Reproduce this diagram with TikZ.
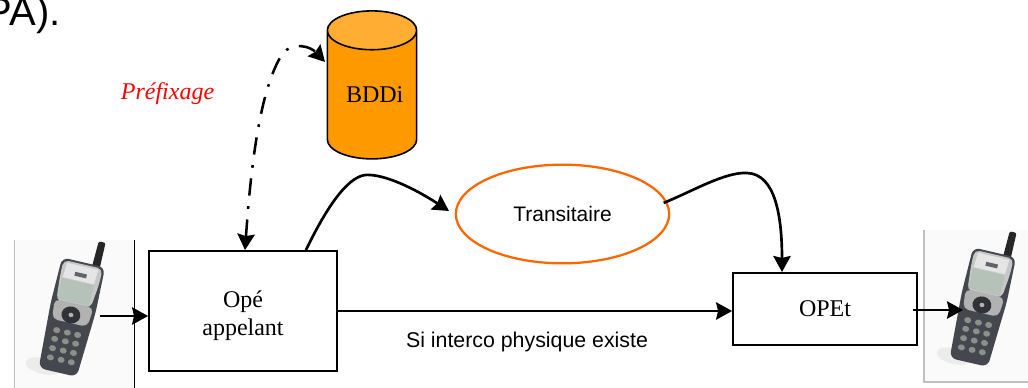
\documentclass[tikz,border=0pt]{standalone}
\usepackage{fontspec}
\setmainfont{Liberation Serif}
\newfontfamily\arialfont{Liberation Sans}
\usetikzlibrary{arrows.meta,shapes.geometric}
\definecolor{bddorange}{HTML}{FF9900}
\definecolor{bddtop}{HTML}{FFAD33}
\definecolor{transorange}{HTML}{FF6600}
\definecolor{phonedark}{HTML}{45474F}
\definecolor{phonekey}{HTML}{8C9088}
\definecolor{phonescreen}{HTML}{B4C2B8}
\tikzset{>={Stealth[length=12pt,width=13pt,inset=1.5pt]}}
\tikzset{
  boxope/.style={draw,line width=1.4pt,font=\fontsize{18}{21}\selectfont,align=center,inner sep=0pt},
  link/.style={->,line width=2pt},
  linkdash/.style={<->,line width=1.9pt,dash pattern=on 13pt off 8pt on 2pt off 8pt},
  phone/.pic={
    \fill[gray!15] (-16,54) ellipse (18 and 8);
    \fill[black!85,rounded corners=1.5pt] (9,-50) -- (10,-80) -- (17,-80) -- (17,-50) -- cycle;
    \fill[phonedark,rounded corners=5pt] (-22,-56) -- (22,-56) -- (23,-10) -- (19,57) -- (-20,57) -- (-23,-10) -- cycle;
    \fill[black!22,rounded corners=4pt] (-20,-54) -- (20,-54) -- (20,-38) -- (17,-13) -- (-18,-13) -- (-20,-38) -- cycle;
    \fill[black!10] (-16,-52) -- (16,-52) -- (15,-37) -- (-17,-37) -- cycle;
    \fill[phonedark!85] (-6,-45) rectangle (6,-41);
    \fill[phonescreen] (-17.5,-36) rectangle (15,-15);
    \fill[black!30,rounded corners=4pt] (-20,-14) -- (20,-14) -- (18,6) -- (-18,6) -- cycle;
    \fill[phonedark!70!black] (-.5,-2) ellipse (9.5 and 8.5);
    \fill[gray!60] (-.5,-2) ellipse (2.5 and 2.2);
    \foreach \kx in {-11,0,10.5}
      \foreach \ky in {16,25,34.5,44}
        \fill[phonekey] (\kx,\ky) ellipse (3.5 and 3);
  }
}
\begin{document}
\begin{tikzpicture}[x=.75pt,y=-.75pt]
\useasboundingbox (0,0) rectangle (1028,388);
% frames of the phones
\fill[black!2] (14,240) rectangle (134,388);
\draw[gray!50,line width=.6pt] (14,240) -- (14,388);
\draw[line width=.7pt] (134,240) -- (134,388);
\fill[black!2] (924,230) rectangle (1028,382);
\draw[gray!50,line width=.8pt] (924,230) -- (924,382) -- (1028,382);
\pic[rotate=-13] at (71,317) {phone};
\pic[rotate=-13] at (982,307) {phone};
\coordinate (telA) at (100,316);
\coordinate (telB) at (913,310);
\coordinate (telBin) at (963,310);
% boxes
\node[boxope,minimum width=141pt,minimum height=90pt] (ope) at (243,311) {\rule{0pt}{20pt}Opé\\appelant};
\node[boxope,minimum width=138pt,minimum height=54pt] (opet) at (825,309) {OPEt};
\node[draw=transorange,line width=1.7pt,ellipse,minimum width=160pt,minimum height=74pt,inner sep=0pt,font=\arialfont\fontsize{15.75}{18}\selectfont] (trans) at (562.5,214) {Transitaire};
\node[draw,line width=1.2pt,cylinder,shape border rotate=90,aspect=.62,cylinder uses custom fill,cylinder body fill=bddorange,cylinder end fill=bddtop,minimum width=67pt,minimum height=111pt,inner sep=0pt,font=\fontsize{18}{21}\selectfont] (bddi) at (372,95) {\hspace{4pt}BDDi};
% texts
\node[font=\fontsize{18}{21}\selectfont\itshape,text=red] (pref) at (167.5,93.5) {Préfixage};
\node[font=\arialfont\fontsize{16}{18}\selectfont] (inter) at (527,342) {Si interco physique existe};
\node[font=\arialfont\fontsize{30}{34}\selectfont,anchor=base west] (pa) at (-19,26) {PA).};
% links
\draw[link] (telA) -- (ope.west |- telA);
\draw[link] (ope.east) -- (opet.west |- ope.east);
\draw[link] (telB) -- (telBin);
\draw[link] (ope.north east) ++(-32,0) coordinate (opeout) .. controls (335,190) and (355,173) .. (370,175) .. controls (390,176) and (420,192) .. (449,211);
\draw[link] (trans.6) ++(-4,0) coordinate (transout) .. controls (695,190) and (725,172) .. (747,173) .. controls (775,174) and (782,215) .. (782,272);
\draw[linkdash] (ope.north) ++(2,0) coordinate (opetop) .. controls (250,180) and (258,90) .. (283,53) .. controls (293,42) and (310,46) .. (325,62);
\end{tikzpicture}
\end{document}
